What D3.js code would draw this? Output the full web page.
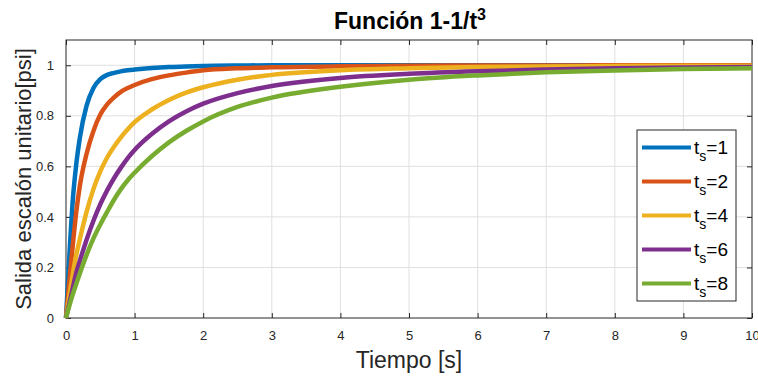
<!DOCTYPE html>
<html>
<head>
<meta charset="utf-8">
<style>
body { margin: 0; background: #fff; }
text { font-family: "Liberation Sans", Arial, Helvetica, sans-serif; }
</style>
</head>
<body>
<div id="chart"></div>
<script src="https://d3js.org/d3.v7.min.js"></script>
<script>
// time samples (s) and step response
var tiempo = [0, 0.05, 0.1, 0.15, 0.2, 0.3, 0.4, 0.5, 0.6, 0.7, 0.8, 0.9, 1, 1.25, 1.5, 1.75, 2, 2.5, 3, 4, 5, 6, 7, 8, 9, 10];
var ts1 = [0, 0.25, 0.47, 0.61, 0.71, 0.84, 0.91, 0.945, 0.962, 0.970, 0.976, 0.980, 0.983, 0.989, 0.993, 0.995, 0.997, 0.999, 1, 1, 1, 1, 1, 1, 1, 1];
var ts2 = [0, 0.15, 0.29, 0.42, 0.52, 0.65, 0.74, 0.805, 0.845, 0.873, 0.895, 0.910, 0.922, 0.945, 0.96, 0.971, 0.98, 0.988, 0.992, 0.996, 0.998, 0.999, 0.999, 1, 1, 1];
var ts4 = [0, 0.09, 0.175, 0.25, 0.31, 0.42, 0.51, 0.58, 0.635, 0.678, 0.715, 0.747, 0.775, 0.825, 0.863, 0.892, 0.913, 0.943, 0.962, 0.98, 0.988, 0.993, 0.995, 0.997, 0.998, 0.998];
var ts6 = [0, 0.06, 0.12, 0.18, 0.225, 0.31, 0.385, 0.45, 0.505, 0.553, 0.595, 0.633, 0.665, 0.728, 0.778, 0.817, 0.848, 0.89, 0.918, 0.95, 0.966, 0.976, 0.983, 0.988, 0.991, 0.993];
var ts8 = [0, 0.05, 0.095, 0.135, 0.175, 0.25, 0.315, 0.37, 0.42, 0.468, 0.51, 0.545, 0.575, 0.64, 0.695, 0.74, 0.778, 0.835, 0.872, 0.915, 0.943, 0.96, 0.972, 0.979, 0.985, 0.988];

var series = [ts1, ts2, ts4, ts6, ts8];
var etiquetas = ["1", "2", "4", "6", "8"];
var colores = ["#0072BD", "#D95319", "#EDB120", "#7E2F8E", "#77AC30"];
var xTicks = [0, 1, 2, 3, 4, 5, 6, 7, 8, 9, 10];
var yTicks = [0, 0.2, 0.4, 0.6, 0.8, 1];

var W = 758, H = 379;
var pL = 66, pR = 752, pT = 40, pB = 318;

var svg = d3.select("#chart").append("svg")
	.attr("width", W).attr("height", H);

var x = d3.scaleLinear().domain([0, 10]).range([pL, pR]);
var y = d3.scaleLinear().domain([0, 1.1]).range([pB, pT]);

// grid
svg.append("g").selectAll("line").data(xTicks.slice(1, -1)).enter().append("line")
	.attr("x1", function(d) { return x(d); }).attr("x2", function(d) { return x(d); })
	.attr("y1", pT).attr("y2", pB)
	.style("stroke", "#dfdfdf").style("stroke-width", 1);
svg.append("g").selectAll("line").data(yTicks.slice(1)).enter().append("line")
	.attr("x1", pL).attr("x2", pR)
	.attr("y1", function(d) { return y(d); }).attr("y2", function(d) { return y(d); })
	.style("stroke", "#dfdfdf").style("stroke-width", 1);

// axes (ticks inward, box all round)
var axCol = "#262626";
var gx = svg.append("g").attr("transform", "translate(0," + pB + ")")
	.call(d3.axisBottom(x).tickValues(xTicks).tickSizeInner(-5).tickSizeOuter(0).tickPadding(13));
var gxt = svg.append("g").attr("transform", "translate(0," + pT + ")")
	.call(d3.axisTop(x).tickValues(xTicks).tickSizeInner(-5).tickSizeOuter(0).tickFormat(""));
var gy = svg.append("g").attr("transform", "translate(" + pL + ",0)")
	.call(d3.axisLeft(y).tickValues(yTicks).tickSizeInner(-5).tickSizeOuter(0).tickPadding(12)
		.tickFormat(function(d) { return d === 0 || d === 1 ? String(d) : d.toFixed(1); }));
var gyr = svg.append("g").attr("transform", "translate(" + pR + ",0)")
	.call(d3.axisRight(y).tickValues(yTicks).tickSizeInner(-5).tickSizeOuter(0).tickFormat(""));

[gx, gxt, gy, gyr].forEach(function(g) {
	g.select(".domain").remove();
	g.selectAll("line").style("stroke", axCol);
	g.selectAll("text").style("fill", axCol).style("font-size", "13px")
		.style("font-family", "'Liberation Sans', Arial, sans-serif");
});
svg.append("rect")
	.attr("x", pL).attr("y", pT).attr("width", pR - pL).attr("height", pB - pT)
	.style("fill", "none").style("stroke", axCol).style("stroke-width", 1);

// curves
svg.append("clipPath").attr("id", "clip").append("rect")
	.attr("x", pL - 3).attr("y", pT).attr("width", pR - pL + 3).attr("height", pB - pT + 3);

var line = d3.line()
	.x(function(d, i) { return x(tiempo[i]); })
	.y(function(d) { return y(d); })
	.curve(d3.curveMonotoneX);

svg.append("g").attr("clip-path", "url(#clip)")
	.selectAll("path").data(series).enter().append("path")
	.attr("d", line)
	.style("fill", "none")
	.style("stroke", function(d, i) { return colores[i]; })
	.style("stroke-width", 4.5)
	.style("stroke-linejoin", "round");

// title and labels
var title = svg.append("text")
	.attr("x", (pL + pR) / 2 + 1).attr("y", 29)
	.attr("text-anchor", "middle")
	.style("font-size", "23px").style("font-weight", "bold").style("fill", "#000");
title.append("tspan").text("Función 1-1/t");
title.append("tspan").attr("dy", -9).style("font-size", "16px").text("3");

svg.append("text")
	.attr("x", (pL + pR) / 2).attr("y", 368)
	.attr("text-anchor", "middle")
	.style("font-size", "23px").style("fill", axCol)
	.text("Tiempo [s]");

svg.append("text")
	.attr("transform", "translate(31," + ((pT + pB) / 2) + ") rotate(-90)")
	.attr("text-anchor", "middle")
	.style("font-size", "22px").style("fill", axCol)
	.text("Salida escalón unitario[psi]");

// legend
var lg = svg.append("g");
lg.append("rect")
	.attr("x", 637).attr("y", 130).attr("width", 99).attr("height", 171)
	.style("fill", "#fff").style("stroke", "#262626").style("stroke-width", 1);

var item = lg.selectAll("g.item").data(etiquetas).enter().append("g")
	.attr("class", "item")
	.attr("transform", function(d, i) { return "translate(0," + (147.5 + i * 34) + ")"; });
item.append("line")
	.attr("x1", 642).attr("x2", 691).attr("y1", 0).attr("y2", 0)
	.style("stroke", function(d, i) { return colores[i]; })
	.style("stroke-width", 4);
var lt = item.append("text")
	.attr("x", 694).attr("y", 6)
	.style("font-size", "19px").style("fill", "#000");
lt.append("tspan").text("t");
lt.append("tspan").attr("dy", 7).style("font-size", "14px").text("s");
lt.append("tspan").attr("dy", -7).text(function(d) { return "=" + d; });
</script>
</body>
</html>
